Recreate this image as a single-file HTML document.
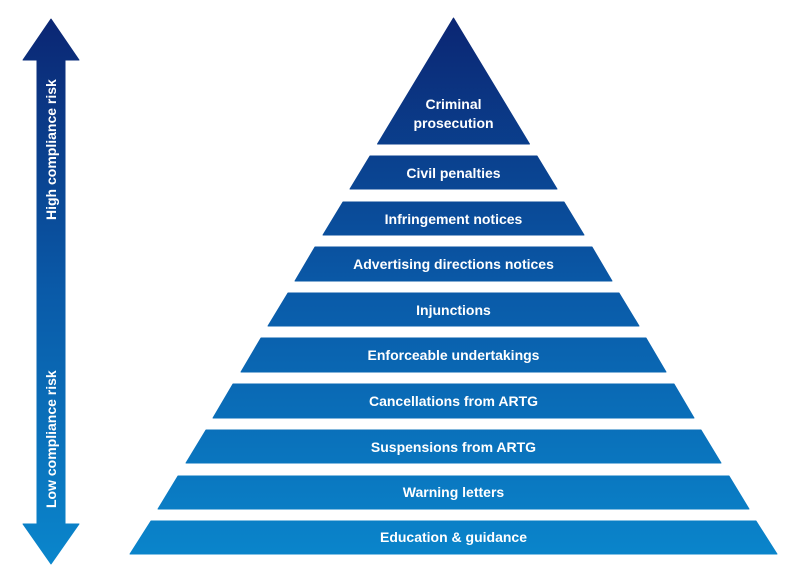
<!DOCTYPE html>
<html><head><style>body{margin:0;background:#fff}svg{display:block}</style></head><body>
<svg width="800" height="584" viewBox="0 0 800 584" xmlns="http://www.w3.org/2000/svg">
<defs>
<linearGradient id="g" x1="0" y1="18" x2="0" y2="564" gradientUnits="userSpaceOnUse">
<stop offset="0" stop-color="#0b2673"/><stop offset="0.5" stop-color="#0a5aa8"/><stop offset="1" stop-color="#0a86cc"/>
</linearGradient>
</defs>
<polygon points="51,19 79,60 65,60 65,524 79,524 51,564 23,524 37,524 37,60 23,60" fill="url(#g)" stroke="url(#g)" stroke-width="1" stroke-linejoin="round"/>
<g font-family="Liberation Sans, sans-serif" font-weight="bold" font-size="14" fill="#fff">
<text transform="translate(56,220) rotate(-90)">High compliance risk</text>
<text transform="translate(56,508) rotate(-90)">Low compliance risk</text>
</g>
<g fill="url(#g)" stroke="url(#g)" stroke-width="1" stroke-linejoin="round">
<polygon points="453.5,18 529.5,144 377.5,144"/>
<polygon points="370,156 537,156 557,189 350,189"/>
<polygon points="343,202 564,202 584,235 323,235"/>
<polygon points="315,247 592,247 612,281 295,281"/>
<polygon points="288,293 619,293 639,326 268,326"/>
<polygon points="261,338 646,338 666,372 241,372"/>
<polygon points="233,384 674,384 694,418 213,418"/>
<polygon points="206,430 701,430 721,463 186,463"/>
<polygon points="178,476 729,476 749,509 158,509"/>
<polygon points="151,521 756,521 777,554 130,554"/>
</g>
<g font-family="Liberation Sans, sans-serif" font-weight="bold" font-size="14" fill="#fff" text-anchor="middle">
<text x="453.5" y="109">Criminal</text>
<text x="453.5" y="128">prosecution</text>
<text x="453.5" y="178">Civil penalties</text>
<text x="453.5" y="224">Infringement notices</text>
<text x="453.5" y="269">Advertising directions notices</text>
<text x="453.5" y="315">Injunctions</text>
<text x="453.5" y="360">Enforceable undertakings</text>
<text x="453.5" y="406">Cancellations from ARTG</text>
<text x="453.5" y="452">Suspensions from ARTG</text>
<text x="453.5" y="497">Warning letters</text>
<text x="453.5" y="542">Education &amp; guidance</text>
</g>
</svg>
</body></html>
